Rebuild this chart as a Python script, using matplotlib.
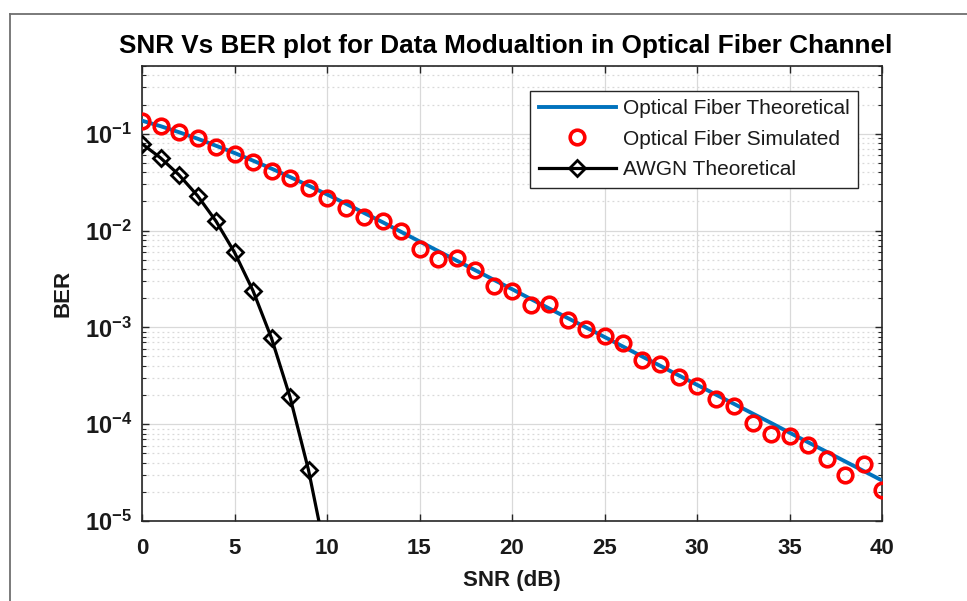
"""
SNR vs BER for data modulation over an optical fiber channel (log-scale BER).
Saves out.png at 967x601.
"""

import matplotlib
matplotlib.use("Agg")
import matplotlib.pyplot as plt
from matplotlib.lines import Line2D
from matplotlib.ticker import FixedLocator, FixedFormatter, LogLocator, NullFormatter

plt.rcParams["font.family"] = ["Liberation Sans", "DejaVu Sans"]
plt.rcParams["mathtext.fontset"] = "custom"
plt.rcParams["mathtext.bf"] = "Liberation Sans:bold"
plt.rcParams["mathtext.rm"] = "Liberation Sans"

# ---- data ----
snr_db = [0, 1, 2, 3, 4, 5, 6, 7, 8, 9, 10, 11, 12, 13, 14, 15, 16, 17, 18, 19, 20,
          21, 22, 23, 24, 25, 26, 27, 28, 29, 30, 31, 32, 33, 34, 35, 36, 37, 38, 39, 40]

ber_fiber_theory = [0.1363, 0.1196, 0.1036, 0.0888, 0.0751, 0.0632, 0.0527, 0.0436,
                    0.0357, 0.0291, 0.0236, 0.0190, 0.0152, 0.0122, 0.0097, 0.00772,
                    0.00615, 0.00490, 0.00390, 0.00311, 0.00248, 0.00197, 0.00157,
                    0.00125, 0.000998, 0.000795, 0.000633, 0.000504, 0.000402,
                    0.000320, 0.000255, 0.000203, 0.000162, 0.000129, 0.000103,
                    8.18e-5, 6.51e-5, 5.19e-5, 4.13e-5, 3.29e-5, 2.62e-5]

ber_fiber_sim = [0.136, 0.121, 0.103, 0.0894, 0.0722, 0.0617, 0.0513, 0.0408, 0.0345,
                 0.0275, 0.0219, 0.0169, 0.0139, 0.0126, 0.0099, 0.00644, 0.00509,
                 0.00524, 0.00393, 0.00268, 0.00238, 0.00171, 0.00174, 0.00119,
                 0.00097, 0.00082, 0.000685, 0.000463, 0.000414, 0.000307, 0.000250,
                 0.000181, 0.000155, 0.000104, 7.9e-5, 7.6e-5, 6.1e-5, 4.4e-5,
                 2.97e-5, 3.9e-5, 2.1e-5]

snr_awgn = [0, 1, 2, 3, 4, 5, 6, 7, 8, 9, 10]
ber_awgn = [0.0786, 0.0563, 0.0375, 0.0229, 0.0125, 0.00595, 0.00239, 7.73e-4,
            1.91e-4, 3.36e-5, 3.87e-6]

x_ticks = [0, 5, 10, 15, 20, 25, 30, 35, 40]
y_ticks = [1e-5, 1e-4, 1e-3, 1e-2, 1e-1]
y_tick_labels = [r"$\mathbf{10^{-5}}$", r"$\mathbf{10^{-4}}$", r"$\mathbf{10^{-3}}$",
                 r"$\mathbf{10^{-2}}$", r"$\mathbf{10^{-1}}$"]

W, H, DPI = 967, 601, 100
BLUE = "#0072BD"
AXCOL = "#262626"
GRIDCOL = "#d9d9d9"

fig = plt.figure(figsize=(W / DPI, H / DPI), dpi=DPI)
fig.set_facecolor("white")

# outer frame (only left and top edges are visible in the reference)
fx, fy = 10 / W, 1 - 14 / H
fig.add_artist(Line2D([fx, fx], [0, fy], transform=fig.transFigure, color="#707070", lw=1.3))
fig.add_artist(Line2D([fx, 1], [fy, fy], transform=fig.transFigure, color="#707070", lw=1.3))

ax = fig.add_axes([142 / W, 1 - 521 / H, 740 / W, (521 - 66) / H])

ax.plot(snr_db, ber_fiber_theory, color=BLUE, lw=2.8, label="Optical Fiber Theoretical", zorder=3)
ax.plot(snr_db, ber_fiber_sim, linestyle="none", marker="o", ms=10.5, mfc="none",
        mec="#ff0000", mew=2.6, label="Optical Fiber Simulated", zorder=4)
ax.plot(snr_awgn, ber_awgn, color="black", lw=2.3, marker="D", ms=8.5, mfc="none",
        mec="black", mew=2.0, label="AWGN Theoretical", zorder=5)

ax.set_yscale("log")
ax.set_xlim(0, 40)
ax.set_ylim(1e-5, 0.5)

ax.xaxis.set_major_locator(FixedLocator(x_ticks))
ax.yaxis.set_major_locator(FixedLocator(y_ticks))
ax.yaxis.set_major_formatter(FixedFormatter(y_tick_labels))
ax.yaxis.set_minor_locator(LogLocator(base=10, subs=[2, 3, 4, 5, 6, 7, 8, 9], numticks=20))
ax.yaxis.set_minor_formatter(NullFormatter())

ax.grid(True, which="major", color=GRIDCOL, lw=0.9, ls="-")
ax.grid(True, which="minor", axis="y", color=GRIDCOL, lw=0.9, ls=(0, (1.5, 2.5)))
ax.set_axisbelow(True)

ax.tick_params(which="both", direction="in", top=True, right=True, color=AXCOL)
ax.tick_params(which="major", length=5, width=1.0)
ax.tick_params(which="minor", length=3, width=0.8)
ax.tick_params(axis="x", labelsize=16, pad=12)
ax.tick_params(axis="y", labelsize=17, pad=7)
for lab in ax.get_xticklabels():
    lab.set_fontweight("bold")
    lab.set_color("#1a1a1a")
for lab in ax.get_yticklabels():
    lab.set_color("#1a1a1a")

for sp in ax.spines.values():
    sp.set_color(AXCOL)
    sp.set_linewidth(1.2)

ax.set_xlabel("SNR (dB)", fontsize=16, fontweight="bold", color="#1a1a1a", labelpad=8)
ax.set_ylabel("BER", fontsize=16, fontweight="bold", color="#1a1a1a", labelpad=8)

fig.text(506 / W, 1 - 46 / H, "SNR Vs BER plot for Data Modualtion in Optical Fiber Channel",
         ha="center", va="center", fontsize=18.8, fontweight="bold", color="black")

leg = ax.legend(loc="upper right", bbox_to_anchor=(1 - 24 / 740, 1 - 25 / 455),
                borderaxespad=0, prop={"size": 15, "weight": "normal"},
                handlelength=3.7, handletextpad=0.35, labelspacing=0.55,
                borderpad=0.4, fancybox=False, framealpha=1)
leg.get_frame().set_edgecolor(AXCOL)
leg.get_frame().set_linewidth(1.0)
for t in leg.get_texts():
    t.set_color("#1a1a1a")

fig.savefig("out.png", dpi=DPI, facecolor="white")
